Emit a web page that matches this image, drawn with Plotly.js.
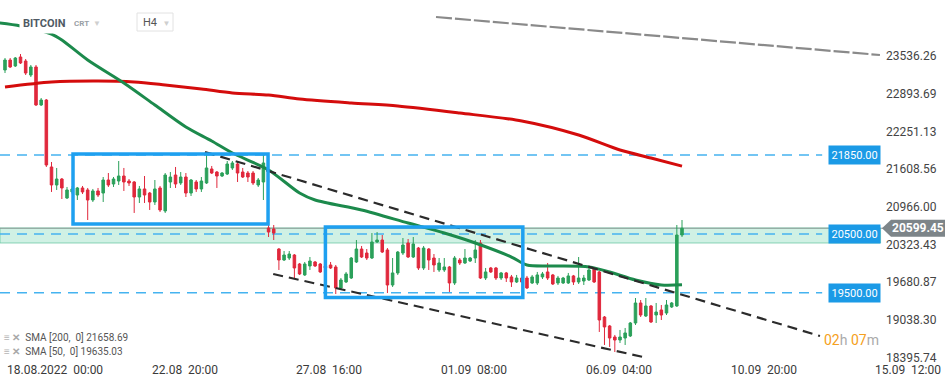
<!DOCTYPE html>
<html><head><meta charset="utf-8">
<script src="https://cdn.plot.ly/plotly-3.0.1.min.js"></script>
<style>html,body{margin:0;padding:0;background:#fff}#chart{width:949px;height:384px}</style>
</head><body><div id="chart"></div>
<script>
// ---- data (H4 candles, BITCOIN) ----
const opens = [
23298,23468,23366,23519,23451,23212,23349,22701,22786,21644,
21337,21439,21115,21218,21166,21286,21252,21081,21235,21200,
21422,21354,21405,21490,21405,21388,21132,21269,21200,21047,
21286,20894,21388,21507,21371,21473,21200,21388,21269,21371,
21610,21558,21490,21524,21627,21695,21558,21541,21541,21337,
21388,20604,20587,20245,20058,20092,20143,19990,19803,19956,
20024,19990,19956,19973,19939,19581,19683,19751,20024,20245,
20177,20092,20365,20399,20229,19632,19837,20177,20348,20109,
20262,19922,20245,20092,19888,19888,19939,19666,20058,20007,
20041,20092,20348,19751,19922,19922,19751,19837,19769,19683,
19751,19751,19666,19666,19769,19854,19803,19666,19666,19666,
19786,19683,19700,19717,19905,19854,19086,18933,18745,18694,
18728,18763,18984,19325,19103,19274,19120,19206,19154,19257,
19274,20484];
const highs = [
23502,23502,23519,23570,23485,23383,23383,22820,22803,21729,
21627,21456,21303,21320,21303,21320,21286,21269,21286,21473,
21541,21473,21746,21627,21439,21405,21320,21490,21218,21422,
21320,21541,21558,21644,21558,21541,21439,21422,21473,21882,
21661,21575,21558,21746,21746,21729,21627,21575,21575,21456,
21848,20706,20655,20262,20211,20211,20160,20007,20024,20109,
20041,20007,19990,20024,19973,19751,19854,20109,20399,20297,
20245,20518,20535,20484,20262,20092,20211,20433,20416,20450,
20280,20297,20262,20160,20092,20092,19956,20126,20092,20245,
20109,20399,20399,19922,19939,19939,19854,19854,19803,19803,
19769,19786,19803,19854,19854,20007,19820,19786,19769,19837,
19803,20109,19803,19922,19939,19871,19103,18950,18780,18865,
18899,19001,19410,19376,19410,19291,19325,19291,19376,19342,
20655,20740];
const lows = [
23246,23332,23349,23400,23212,23178,22684,22684,21644,21218,
21252,21098,21098,21183,21081,21183,20740,21047,21132,21047,
21303,21303,21337,21235,21320,20860,21030,21030,20911,20996,
20877,20860,21286,21286,21337,21132,21149,21218,21218,21354,
21524,21286,21473,21507,21593,21388,21456,21388,21337,21303,
21081,20450,20399,19888,20041,20058,19751,19803,19786,19888,
19939,19837,19888,19905,19478,19547,19666,19734,20007,20092,
20058,20075,20348,20177,19495,19598,19803,20143,20092,20092,
19888,19888,19888,19854,19854,19854,19513,19632,19973,19990,
20024,20007,19734,19717,19837,19717,19717,19683,19598,19666,
19666,19564,19649,19632,19734,19717,19632,19632,19649,19649,
19632,19649,19632,19700,19666,18831,18609,18575,18489,18643,
18609,18745,18950,19086,19086,18984,18984,19035,19120,19240,
19257,20450];
const closes = [
23468,23349,23502,23417,23246,23349,22701,22786,21678,21337,
21439,21286,21252,21269,21286,21218,21081,21235,21166,21422,
21337,21439,21490,21388,21371,21132,21269,21166,21047,21269,
20911,21507,21473,21354,21473,21200,21422,21269,21405,21627,
21541,21490,21541,21695,21712,21541,21473,21473,21371,21422,
21712,20535,20518,20058,20143,20160,19922,19820,19990,20041,
19956,19854,19922,19922,19581,19717,19820,20092,20245,20109,
20092,20365,20399,20194,19632,19837,20194,20314,20109,20331,
19922,20262,20058,19973,20007,19939,19666,20092,20007,20092,
20092,20229,19751,19854,19854,19751,19837,19751,19683,19751,
19683,19581,19769,19803,19820,19751,19649,19751,19751,19786,
19683,19751,19751,19888,19683,19035,18916,18728,18694,18745,
18814,18984,19325,19120,19274,19001,19171,19120,19291,19325,
20484,20599.45];
const candleIdx = opens.map((_, i) => i);

// SMA readings (candle index, price)
const sma50Idx = [-1, 3, 9, 11, 16, 23, 29, 35, 40, 44, 51, 57, 60, 69, 78, 85, 91, 98, 101, 106, 113, 117, 122, 127, 131];
const sma50Val = [24099, 24048, 23911, 23809, 23468, 23076, 22701, 22326, 22087, 21882, 21593, 21200, 21081, 20911, 20689, 20518, 20348, 20109, 19973, 19956, 19939, 19853, 19717, 19632, 19635.03];
const sma200Idx = [0, 9, 18, 25, 31, 38, 44, 51, 57, 67, 76, 88, 100, 111, 119, 125, 131];
const sma200Val = [23008, 23093, 23110, 23093, 23042, 22974, 22905, 22870, 22803, 22735, 22684, 22564, 22428, 22189, 21933, 21797, 21658.69];

// drawn trend lines
const chanUpperIdx = [38.7, 157.7], chanUpperVal = [21899, 18762];
const chanLowerIdx = [51.9, 123.5], chanLowerVal = [19819, 18404];
const longTrendIdx = [83.4, 169.3], longTrendVal = [24201, 23553];

// levels
const levels = [21850, 20500, 19500];
const levelLabels = ['21850.00', '20500.00', '19500.00'];
const zoneLow = 20348, zoneHigh = 20604;
const lastPrice = 20599.45, lastPriceLabel = '20599.45';

// axes
const yTicks = [18395.74, 19038.30, 19680.87, 20323.43, 20966.00, 21608.56, 22251.13, 22893.69, 23536.26];
const xTickIdx = [0, 28, 56, 84, 112, 140, 168];
const xTickText = ['18.08.2022\u00a0\u00a000:00', '22.08\u00a0\u00a020:00', '27.08\u00a0\u00a016:00', '01.09\u00a0\u00a008:00', '06.09\u00a0\u00a004:00', '10.09\u00a0\u00a020:00', '15.09\u00a0\u00a012:00'];

const sma200Text = 'SMA [200,  0] 21658.69';
const sma50Text = 'SMA [50,  0] 19635.03';

// ---- style ----
const GREEN = '#2ba05a', RED = '#e0283c', BLUE = '#1ea0f0', LVL = '#45b3f0';
const FONT = 'Roboto, "Open Sans", sans-serif';

const traces = [
  {
    type: 'candlestick', x: candleIdx, open: opens, high: highs, low: lows, close: closes,
    increasing: {line: {color: GREEN, width: 1}, fillcolor: GREEN},
    decreasing: {line: {color: RED, width: 1}, fillcolor: RED},
    whiskerwidth: 0, hoverinfo: 'skip'
  },
  {type: 'scatter', mode: 'lines', x: sma200Idx, y: sma200Val, line: {color: '#d40c0c', width: 3, shape: 'spline', smoothing: 0.8}, hoverinfo: 'skip'},
  {type: 'scatter', mode: 'lines', x: sma50Idx, y: sma50Val, line: {color: '#1c8a4c', width: 3, shape: 'spline', smoothing: 0.8}, hoverinfo: 'skip'},
  {type: 'scatter', mode: 'lines', x: chanUpperIdx, y: chanUpperVal, line: {color: '#2b2b2b', width: 2.2, dash: '10px,6px'}, hoverinfo: 'skip'},
  {type: 'scatter', mode: 'lines', x: chanLowerIdx, y: chanLowerVal, line: {color: '#2b2b2b', width: 2.2, dash: '10px,6px'}, hoverinfo: 'skip'},
  {type: 'scatter', mode: 'lines', x: longTrendIdx, y: longTrendVal, line: {color: '#8a8a8a', width: 2.2, dash: '16px,3px'}, hoverinfo: 'skip'}
];

const shapes = [
  {type: 'rect', layer: 'below', xref: 'paper', yref: 'y', x0: 0, x1: 0.995, y0: zoneLow, y1: zoneHigh,
   fillcolor: 'rgba(120,214,178,0.35)', line: {color: 'rgba(95,195,155,0.7)', width: 1}},
  {type: 'line', layer: 'below', xref: 'paper', yref: 'y', x0: 0, x1: 1, y0: lastPrice, y1: lastPrice,
   line: {color: '#8f9c98', width: 1}},
  ...levels.map(v => ({type: 'line', layer: 'below', xref: 'paper', yref: 'y', x0: 0, x1: 0.929, y0: v, y1: v,
   line: {color: LVL, width: 1.5, dash: '10px,7px'}})),
  {type: 'rect', layer: 'above', xref: 'x', yref: 'y', x0: 13.16, x1: 50.9, y0: 20672, y1: 21865,
   line: {color: BLUE, width: 3.5}, fillcolor: 'rgba(0,0,0,0)'},
  {type: 'rect', layer: 'above', xref: 'x', yref: 'y', x0: 62.0, x1: 100.2, y0: 19419, y1: 20621,
   line: {color: BLUE, width: 3.5}, fillcolor: 'rgba(0,0,0,0)'},
  {type: 'path', layer: 'above', xref: 'paper', yref: 'y', xsizemode: 'pixel', ysizemode: 'pixel',
   xanchor: 1, yanchor: lastPrice, path: 'M-3,0 L6,8.5 L60,8.5 L60,-8.5 L6,-8.5 Z',
   fillcolor: '#7d8589', line: {width: 0}},
  {type: 'rect', layer: 'above', xref: 'paper', yref: 'paper', x0: 137/885, x1: 173/885, y0: 1 - 31/360, y1: 1 - 13/360,
   fillcolor: '#fff', line: {color: '#e2e2e2', width: 1}}
];

const annotations = [
  ...levels.map((v, i) => ({xref: 'paper', yref: 'y', x: 854/885, y: v, xanchor: 'center', yanchor: 'middle',
    text: levelLabels[i], showarrow: false, bgcolor: '#1b9ae6', borderpad: 2.5,
    font: {family: FONT, size: 11, color: '#fff'}})),
  {xref: 'paper', yref: 'y', x: 918/885, y: lastPrice, xanchor: 'center', yanchor: 'middle', text: '<b>' + lastPriceLabel + '</b>',
   showarrow: false, font: {family: FONT, size: 12, color: '#fff'}},
  ...xTickIdx.map((v, i) => ({xref: 'x', yref: 'paper', x: v, y: 0, xanchor: 'left', yanchor: 'top', yshift: -1,
    text: xTickText[i], showarrow: false, font: {family: FONT, size: 12, color: '#3a3a3a'}})),
  {xref: 'paper', yref: 'paper', x: 19/885, y: 1 - 23/360, xanchor: 'left', yanchor: 'middle',
   text: '<b>BITCOIN</b>', showarrow: false, bgcolor: '#fff', borderpad: 3,
   font: {family: FONT, size: 11, color: '#4f5a64'}},
  {xref: 'paper', yref: 'paper', x: 72/885, y: 1 - 24/360, xanchor: 'left', yanchor: 'middle',
   text: '<b>CRT</b>  <span style="color:#cfcfcf;font-size:8px">▼</span>', showarrow: false,
   font: {family: FONT, size: 8, color: '#9aa0a6'}},
  {xref: 'paper', yref: 'paper', x: 141/885, y: 1 - 22/360, xanchor: 'left', yanchor: 'middle',
   text: 'H4  <span style="color:#cfcfcf;font-size:8px">▼</span>', showarrow: false,
   font: {family: FONT, size: 11, color: '#555'}},
  {xref: 'paper', yref: 'paper', x: 3/885, y: 1 - 337/360, xanchor: 'left', yanchor: 'middle', borderpad: 0,
   text: '<span style="color:#b5b5b5">≡</span>\u00a0<b><span style="color:#a8a8a8">✕</span></b>\u00a0 ' + sma200Text, showarrow: false,
   font: {family: FONT, size: 10, color: '#555'}},
  {xref: 'paper', yref: 'paper', x: 3/885, y: 1 - 351/360, xanchor: 'left', yanchor: 'middle', borderpad: 0,
   text: '<span style="color:#b5b5b5">≡</span>\u00a0<b><span style="color:#a8a8a8">✕</span></b>\u00a0 ' + sma50Text, showarrow: false,
   font: {family: FONT, size: 10, color: '#555'}},
  {xref: 'paper', yref: 'paper', x: 822/885, y: 1 - 340/360, xanchor: 'left', yanchor: 'middle',
   text: '<span style="color:#f5a020">02</span><span style="color:#aaa">h </span><span style="color:#f5a020">07</span><span style="color:#aaa">m</span>',
   showarrow: false, font: {family: FONT, size: 14, color: '#aaa'}}
];

const layout = {
  width: 949, height: 384,
  margin: {l: 0, r: 64, t: 0, b: 24},
  paper_bgcolor: '#fff', plot_bgcolor: '#fff',
  showlegend: false, hovermode: false,
  xaxis: {range: [-0.967, 170.28], showticklabels: false, showgrid: false, zeroline: false, showline: false,
          ticks: '', rangeslider: {visible: false}, fixedrange: true},
  yaxis: {side: 'right', range: [18353, 24491], tickvals: yTicks, ticktext: yTicks.map(v => v.toFixed(2)),
          showgrid: false, zeroline: false, showline: false, ticks: '',
          tickfont: {family: FONT, size: 12, color: '#444'}, fixedrange: true},
  shapes: shapes,
  annotations: annotations
};

Plotly.newPlot('chart', traces, layout, {displayModeBar: false, staticPlot: true});
</script>
</body></html>
